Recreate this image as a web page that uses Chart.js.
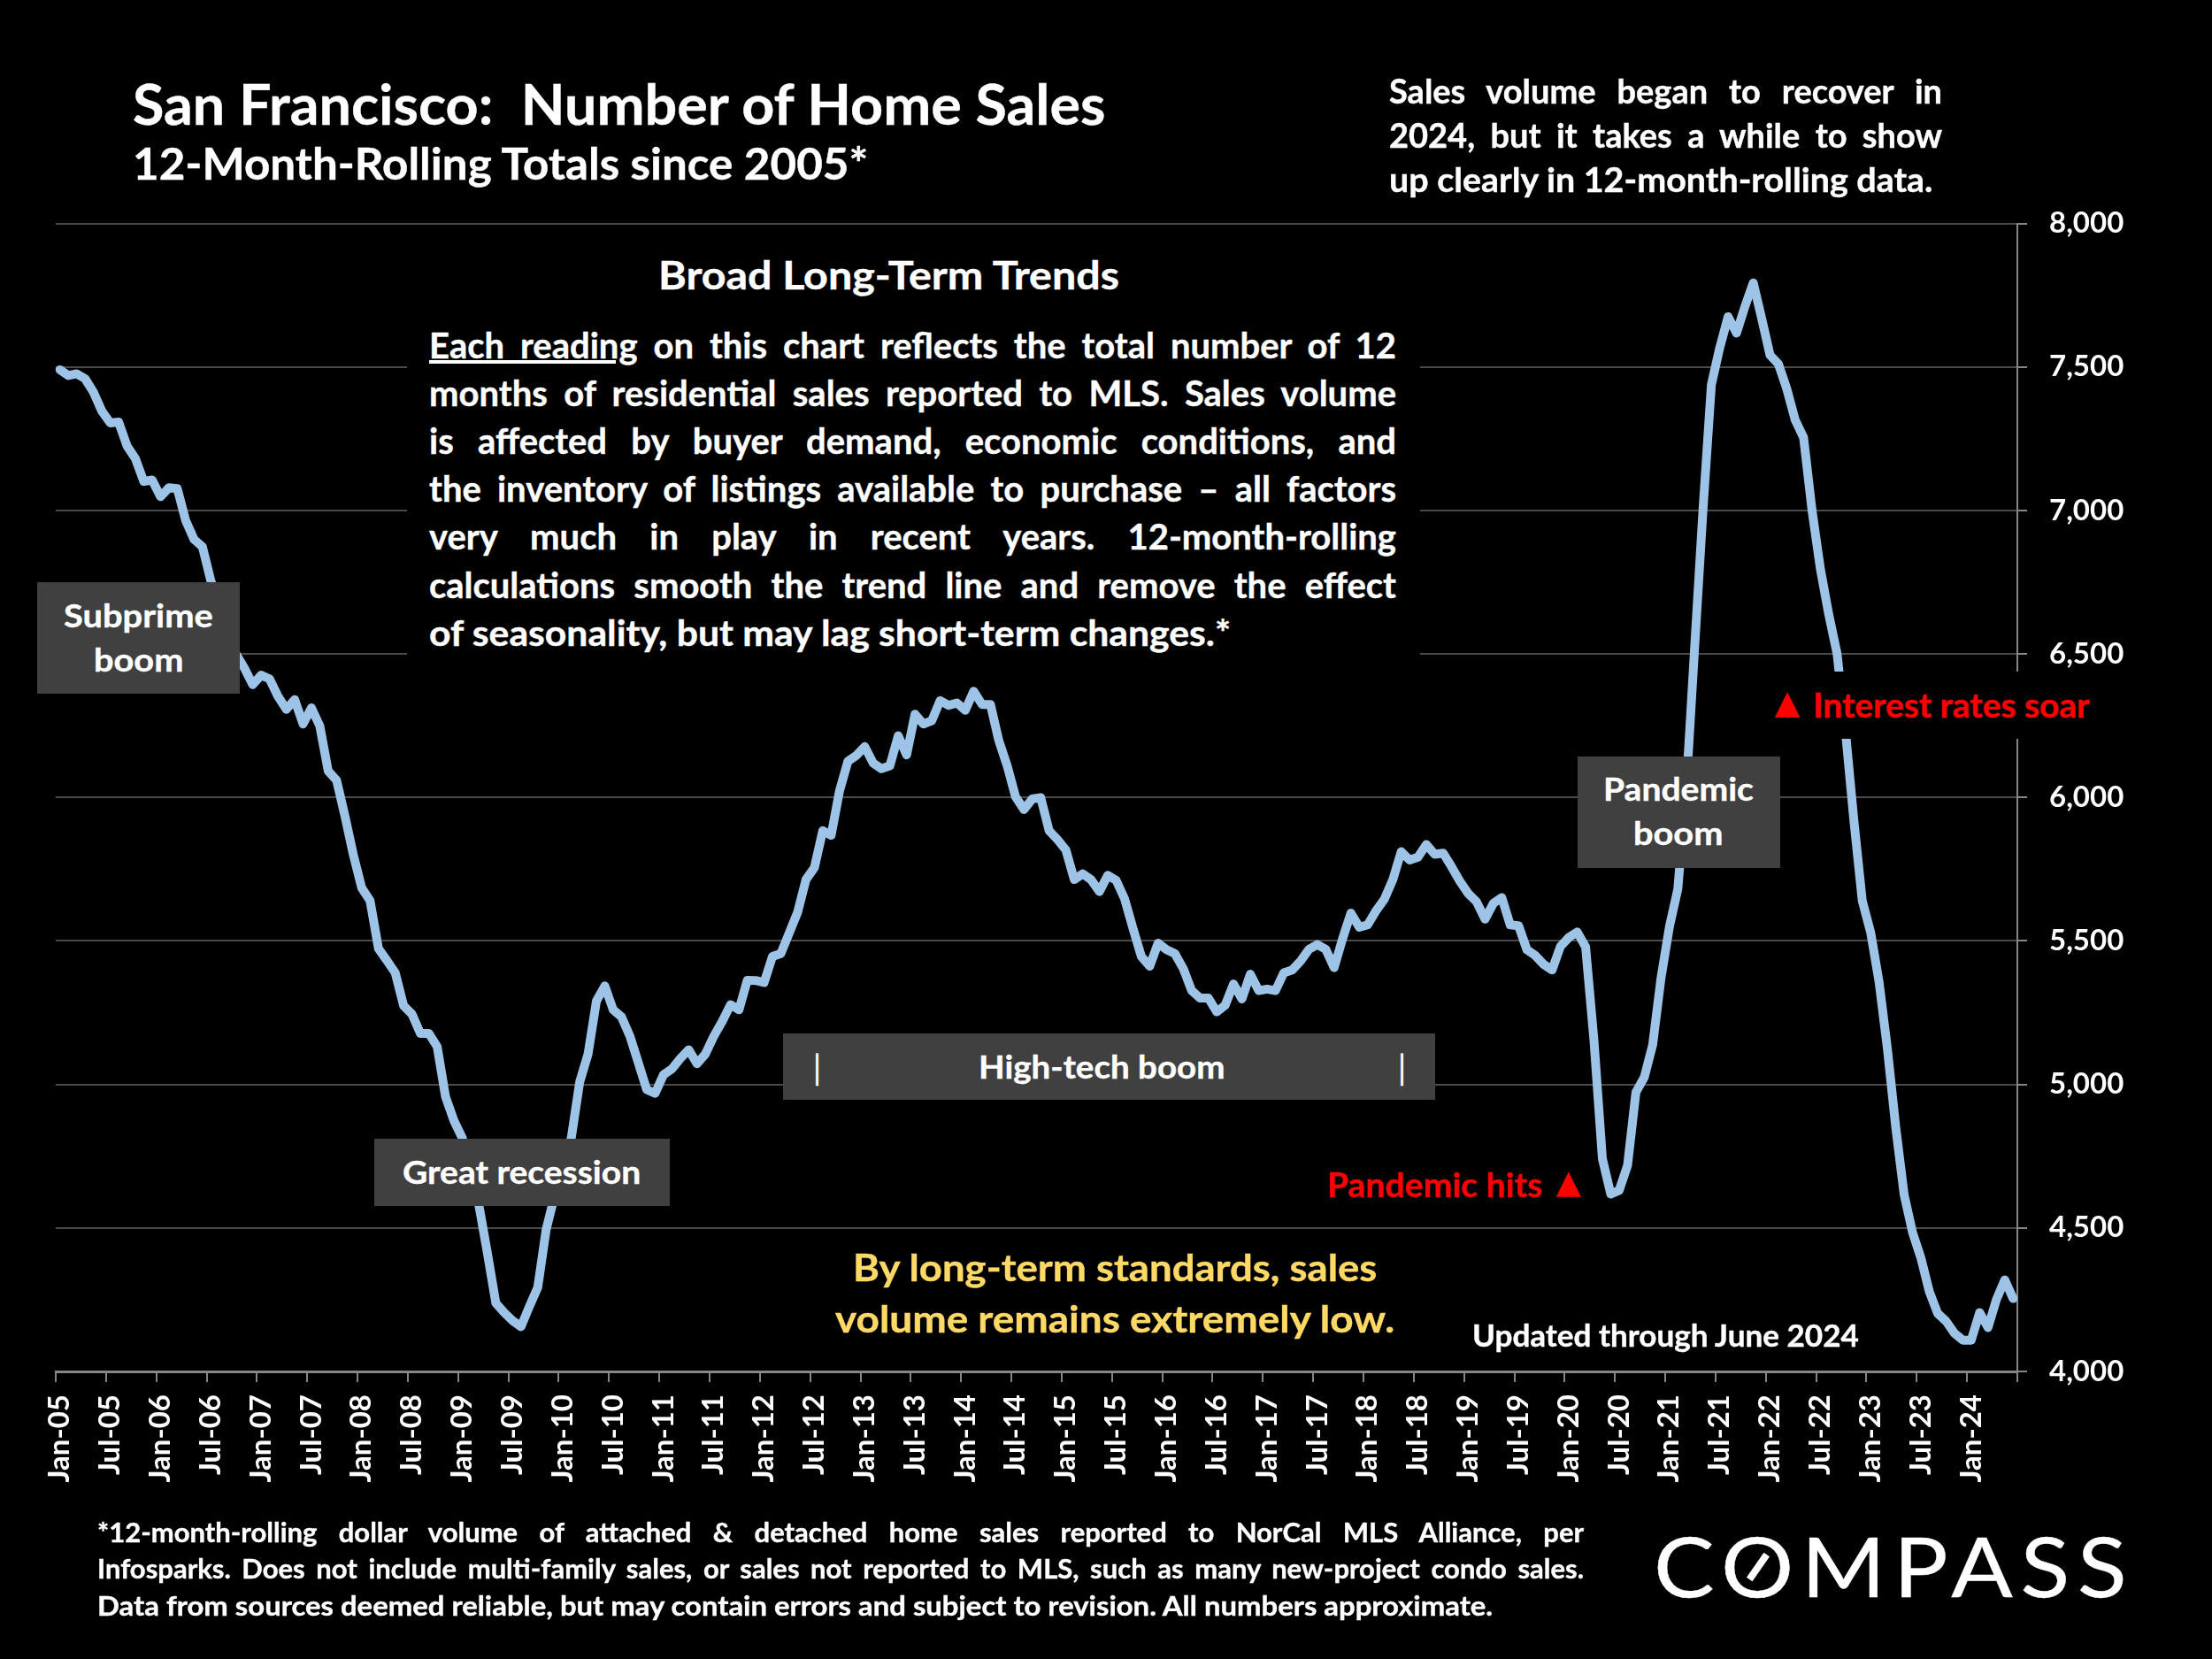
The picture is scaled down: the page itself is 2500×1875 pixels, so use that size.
<!DOCTYPE html>
<html>
<head>
<meta charset="utf-8">
<title>San Francisco: Number of Home Sales</title>
<script src="https://cdn.jsdelivr.net/npm/chart.js@4"></script>
<style>
html, body { margin: 0; padding: 0; background: #000; }
#page { position: relative; width: 2500px; height: 1875px; overflow: hidden; background: #000; font-family: "Lato", "DejaVu Sans", sans-serif; font-weight: 700; color: #fff; }
canvas { position: absolute; left: 0; top: 0; }
.box { position: absolute; }
.txt { position: absolute; white-space: nowrap; line-height: 1.2; transform-origin: left top; -webkit-text-stroke: 0.4px currentColor; }
.just { text-align: justify; text-align-last: justify; white-space: normal; }
</style>
</head>
<body>
<div id="page"><canvas id="chart" width="2500" height="1875"></canvas></div>
<script>
const monthNames = ['Jan', 'Feb', 'Mar', 'Apr', 'May', 'Jun', 'Jul', 'Aug', 'Sep', 'Oct', 'Nov', 'Dec'];
const years = ['05', '06', '07', '08', '09', '10', '11', '12', '13', '14', '15', '16', '17', '18', '19', '20', '21', '22', '23', '24'];
const valueTicks = [4000, 4500, 5000, 5500, 6000, 6500, 7000, 7500, 8000];

// 12 month rolling totals, Jan-05 to Jun-24
const sales = [
    7490, 7470, 7476, 7459, 7412, 7346, 7305, 7308, 7225, 7181, 7101, 7106,
    7048, 7079, 7076, 6965, 6899, 6873, 6755, 6670, 6580, 6500, 6451, 6393,
    6426, 6413, 6353, 6307, 6341, 6256, 6312, 6249, 6092, 6060, 5935, 5800,
    5685, 5640, 5473, 5432, 5389, 5274, 5245, 5178, 5178, 5132, 4957, 4874,
    4813, 4695, 4576, 4411, 4238, 4205, 4177, 4156, 4226, 4293, 4494, 4611,
    4730, 4813, 5008, 5106, 5291, 5343, 5260, 5235, 5168, 5075, 4982, 4969,
    5034, 5054, 5090, 5121, 5072, 5106, 5168, 5219, 5278, 5260, 5363, 5362,
    5355, 5446, 5456, 5528, 5600, 5714, 5755, 5884, 5868, 6023, 6126, 6146,
    6177, 6120, 6100, 6110, 6215, 6148, 6290, 6256, 6267, 6337, 6321, 6329,
    6304, 6370, 6324, 6324, 6198, 6110, 6002, 5958, 5995, 5999, 5884, 5853,
    5817, 5714, 5734, 5714, 5672, 5729, 5711, 5647, 5544, 5446, 5412, 5492,
    5470, 5456, 5404, 5327, 5301, 5301, 5253, 5276, 5350, 5298, 5384, 5327,
    5332, 5327, 5389, 5399, 5430, 5471, 5487, 5471, 5407, 5507, 5597, 5548,
    5556, 5605, 5646, 5713, 5811, 5782, 5792, 5836, 5802, 5806, 5759, 5708,
    5665, 5636, 5576, 5631, 5651, 5556, 5553, 5469, 5449, 5418, 5399, 5481,
    5512, 5531, 5479, 5151, 4741, 4618, 4631, 4718, 4973, 5025, 5138, 5372,
    5550, 5681, 6031, 6520, 7002, 7438, 7567, 7675, 7618, 7710, 7793, 7669,
    7541, 7510, 7423, 7315, 7254, 7002, 6797, 6638, 6500, 6230, 5920, 5640,
    5530, 5358, 5124, 4849, 4615, 4484, 4395, 4278, 4202, 4175, 4133, 4109,
    4109, 4205, 4153, 4250, 4319, 4254
];

const months = [];
years.forEach((yy) => {
    monthNames.forEach((m) => months.push(`${m}-${yy}`));
});
months.length = sales.length;

new Chart(document.getElementById('chart'), {
    type: 'line',
    data: {
        labels: months,
        datasets: [{
            data: sales,
            borderColor: '#9DC3E6',
            borderWidth: 10,
            borderJoinStyle: 'round',
            borderCapStyle: 'round',
            pointRadius: 0,
            tension: 0,
            clip: false
        }]
    },
    options: {
        responsive: false,
        animation: false,
        devicePixelRatio: 1,
        layout: { padding: { left: 63, top: 252.5, right: 0, bottom: 0 } },
        plugins: { legend: { display: false }, tooltip: { enabled: false } },
        scales: {
            x: {
                offset: true,
                afterFit: (scale) => { scale.height = 325; },
                border: { color: '#868686', width: 3 },
                grid: {
                    offset: true,
                    drawOnChartArea: false,
                    tickLength: 12,
                    lineWidth: 2,
                    // only the half-year marks get a tick
                    tickColor: (ctx) => (ctx.index === undefined || ctx.index % 6 === 0 ? '#868686' : 'transparent')
                },
                ticks: {
                    autoSkip: false,
                    minRotation: 90,
                    maxRotation: 90,
                    padding: 14,
                    color: '#fff',
                    font: { family: 'Lato', weight: '700', size: 33 },
                    callback: (value, index) => (index % 6 === 0 ? months[index] : '')
                }
            },
            y: {
                position: 'right',
                min: 4000,
                max: 8000,
                afterFit: (scale) => { scale.width = 220; },
                afterBuildTicks: (scale) => { scale.ticks = valueTicks.map((v) => ({ value: v })); },
                border: { color: '#868686', width: 2 },
                grid: {
                    color: '#4a4a4a',
                    lineWidth: 2,
                    tickLength: 11,
                    tickColor: '#868686'
                },
                ticks: {
                    padding: 25,
                    color: '#fff',
                    font: { family: 'Lato', weight: '700', size: 33 },
                    callback: (value) => value.toLocaleString('en-US')
                }
            }
        }
    }
});

const page = document.getElementById('page');

const addBox = (left, top, right, bottom, color) => {
    const div = document.createElement('div');
    div.className = 'box';
    div.style.cssText = `left:${left}px;top:${top}px;width:${right - left}px;height:${bottom - top}px;background:${color}`;
    page.appendChild(div);
    return div;
};

// one line of text, squeezed to the width it has in the picture
const addText = (html, x, baseline, size, width, color) => {
    const div = document.createElement('div');
    div.className = 'txt';
    div.innerHTML = html;
    div.style.left = x + 'px';
    div.style.top = (baseline + 2 - 0.987 * size) + 'px';
    div.style.fontSize = size + 'px';
    if (color) div.style.color = color;
    page.appendChild(div);
    div.style.transform = `scaleX(${width / div.offsetWidth})`;
    return div;
};

// one justified line, only squeezed if it would not fit otherwise
const addJustified = (html, x, baseline, size, width) => {
    const div = addText(html, x, baseline, size, width);
    const natural = div.offsetWidth;
    const squeeze = Math.min(1, width / natural);
    div.classList.add('just');
    div.style.width = (width / squeeze) + 'px';
    div.style.transform = `scaleX(${squeeze})`;
    return div;
};

// headers
addText('San Francisco:&nbsp; Number of Home Sales', 150, 139, 63, 1099);
addText('12-Month-Rolling Totals since 2005*', 150, 201, 49, 831);

addJustified('Sales volume began to recover in', 1570, 115.5, 38, 625);
addJustified('2024, but it takes a while to show', 1570, 165.5, 38, 625);
addText('up clearly in 12-month-rolling data.', 1570, 215.5, 38, 614);

// text block sits on black, hiding the gridlines
addBox(460, 270, 1605, 760, '#000');
addText('Broad Long-Term Trends', 744, 325.5, 44, 521);
const paragraph = [
    '<span style="text-decoration:underline">Each reading</span> on this chart reflects the total number of 12',
    'months of residential sales reported to MLS. Sales volume',
    'is affected by buyer demand, economic conditions, and',
    'the inventory of listings available to purchase – all factors',
    'very much in play in recent years. 12-month-rolling',
    'calculations smooth the trend line and remove the effect'
];
paragraph.forEach((line, i) => addJustified(line, 485, 403 + i * 54.2, 40, 1093));
addText('of seasonality, but may lag short-term changes.*', 485, 403 + 6 * 54.2, 40, 906);

// grey labels
addBox(42, 658, 271, 784, '#404040');
addText('Subprime', 72, 708, 37, 169);
addText('boom', 106, 758, 37, 102);

addBox(423, 1287, 757, 1363, '#404040');
addText('Great recession', 455, 1337, 37, 269);

addBox(885, 1168, 1622, 1243, '#404040');
addText('|', 920, 1220, 38, 7);
addText('High-tech boom', 1106, 1218, 37, 278);
addText('|', 1581, 1220, 38, 7);

addBox(1783, 855, 2012, 981, '#404040');
addText('Pandemic', 1812, 904, 37, 170);
addText('boom', 1846, 954, 37, 102);

// red notes
addBox(1990, 759, 2372, 835, '#000');
addText('▲', 2006, 805, 36, 28, '#FF0000');
addText('Interest rates soar', 2049, 810, 38, 313, '#FF0000');
addText('Pandemic hits', 1500, 1352, 38, 243, '#FF0000');
addText('▲', 1759, 1347, 36, 28, '#FF0000');

addText('By long-term standards, sales', 964, 1446, 42, 592, '#FFD966');
addText('volume remains extremely low.', 944, 1504.5, 42, 632, '#FFD966');
addText('Updated through June 2024', 1664, 1520, 35, 437);

// footnote
addJustified('*12-month-rolling dollar volume of attached &amp; detached home sales reported to NorCal MLS Alliance, per', 110, 1741.5, 31, 1680);
addJustified('Infosparks. Does not include multi-family sales, or sales not reported to MLS, such as many new-project condo sales.', 110, 1782.5, 31, 1680);
addText('Data from sources deemed reliable, but may contain errors and subject to revision. All numbers approximate.', 110, 1824.5, 31, 1577);

// logo
const logo = addText('COMPASS', 1869, 1804, 94, 543);
logo.style.fontWeight = '400';
logo.style.letterSpacing = '8px';
logo.style.transform = `scaleX(${543 / logo.offsetWidth})`;
const slash = addBox(1970, 1767, 2004, 1775, '#fff');
slash.style.transform = 'rotate(-55deg)';
</script>
</body>
</html>
